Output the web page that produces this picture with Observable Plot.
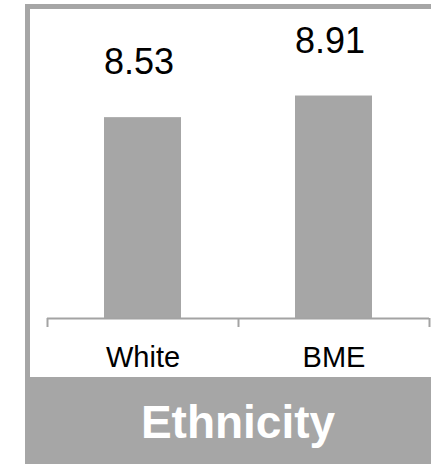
<!DOCTYPE html>
<html>
<head>
<meta charset="utf-8">
<script src="https://cdn.jsdelivr.net/npm/d3@7"></script>
<script src="https://cdn.jsdelivr.net/npm/@observablehq/plot@0.6"></script>
<style>
  html, body { margin: 0; padding: 0; background: #fff; }
  body { width: 431px; height: 464px; overflow: hidden; position: relative; font-family: "Liberation Sans", Arial, sans-serif; }
  #frame { position: absolute; left: 25px; top: 4px; width: 401px; border-left: 5px solid #a6a6a6; border-top: 5px solid #a6a6a6; }
  #chart svg { display: block; }
  #banner { height: 87px; background: #a6a6a6; color: #fff; font-weight: bold; font-size: 46px; display: flex; align-items: center; justify-content: center; padding-left: 20px; padding-top: 2px; margin-left: -5px; box-sizing: border-box; width: 406px; }
</style>
</head>
<body>
<div id="frame">
  <div id="chart"></div>
  <div id="banner"></div>
</div>
<script>
const categories = ["White", "BME"];
const values = [8.53, 8.91];
const yDomain = [5, 10];
const title = "Ethnicity";

const data = categories.map((c, i) => ({category: c, value: values[i]}));
const grey = "#a6a6a6";
const axisGrey = "#a3a3a3";
const width = 401, height = 368, marginLeft = 17, marginRight = 2;
const band = (width - marginLeft - marginRight) / categories.length;

const chart = Plot.plot({
  width, height,
  marginLeft, marginRight, marginTop: 24.5, marginBottom: 59,
  style: {fontFamily: "'Liberation Sans', Arial, sans-serif", background: "white", color: "#000"},
  x: {domain: categories, padding: 0, axis: null},
  y: {domain: yDomain, axis: null},
  marks: [
    Plot.barY(data, {x: "category", y1: yDomain[0], y2: "value", fill: grey, insetLeft: 57, insetRight: 57}),
    Plot.ruleY([yDomain[0]], {stroke: axisGrey, strokeWidth: 2}),
    Plot.ruleX(categories, {x: d => d, dx: -band / 2, y1: yDomain[0], y2: yDomain[0], insetBottom: -9, stroke: axisGrey, strokeWidth: 2}),
    Plot.ruleX(categories.slice(-1), {x: d => d, dx: band / 2, y1: yDomain[0], y2: yDomain[0], insetBottom: -9, stroke: axisGrey, strokeWidth: 2}),
    Plot.text(data, {x: "category", y: "value", text: d => d.value.toFixed(2), dy: -55, dx: -4, fontSize: 36, fill: "#000"}),
    Plot.axisX({tickSize: 0, tickPadding: 28, fontSize: 29, fill: "#000", label: null})
  ]
});
document.getElementById("chart").appendChild(chart);
document.getElementById("banner").textContent = title;
</script>
</body>
</html>
